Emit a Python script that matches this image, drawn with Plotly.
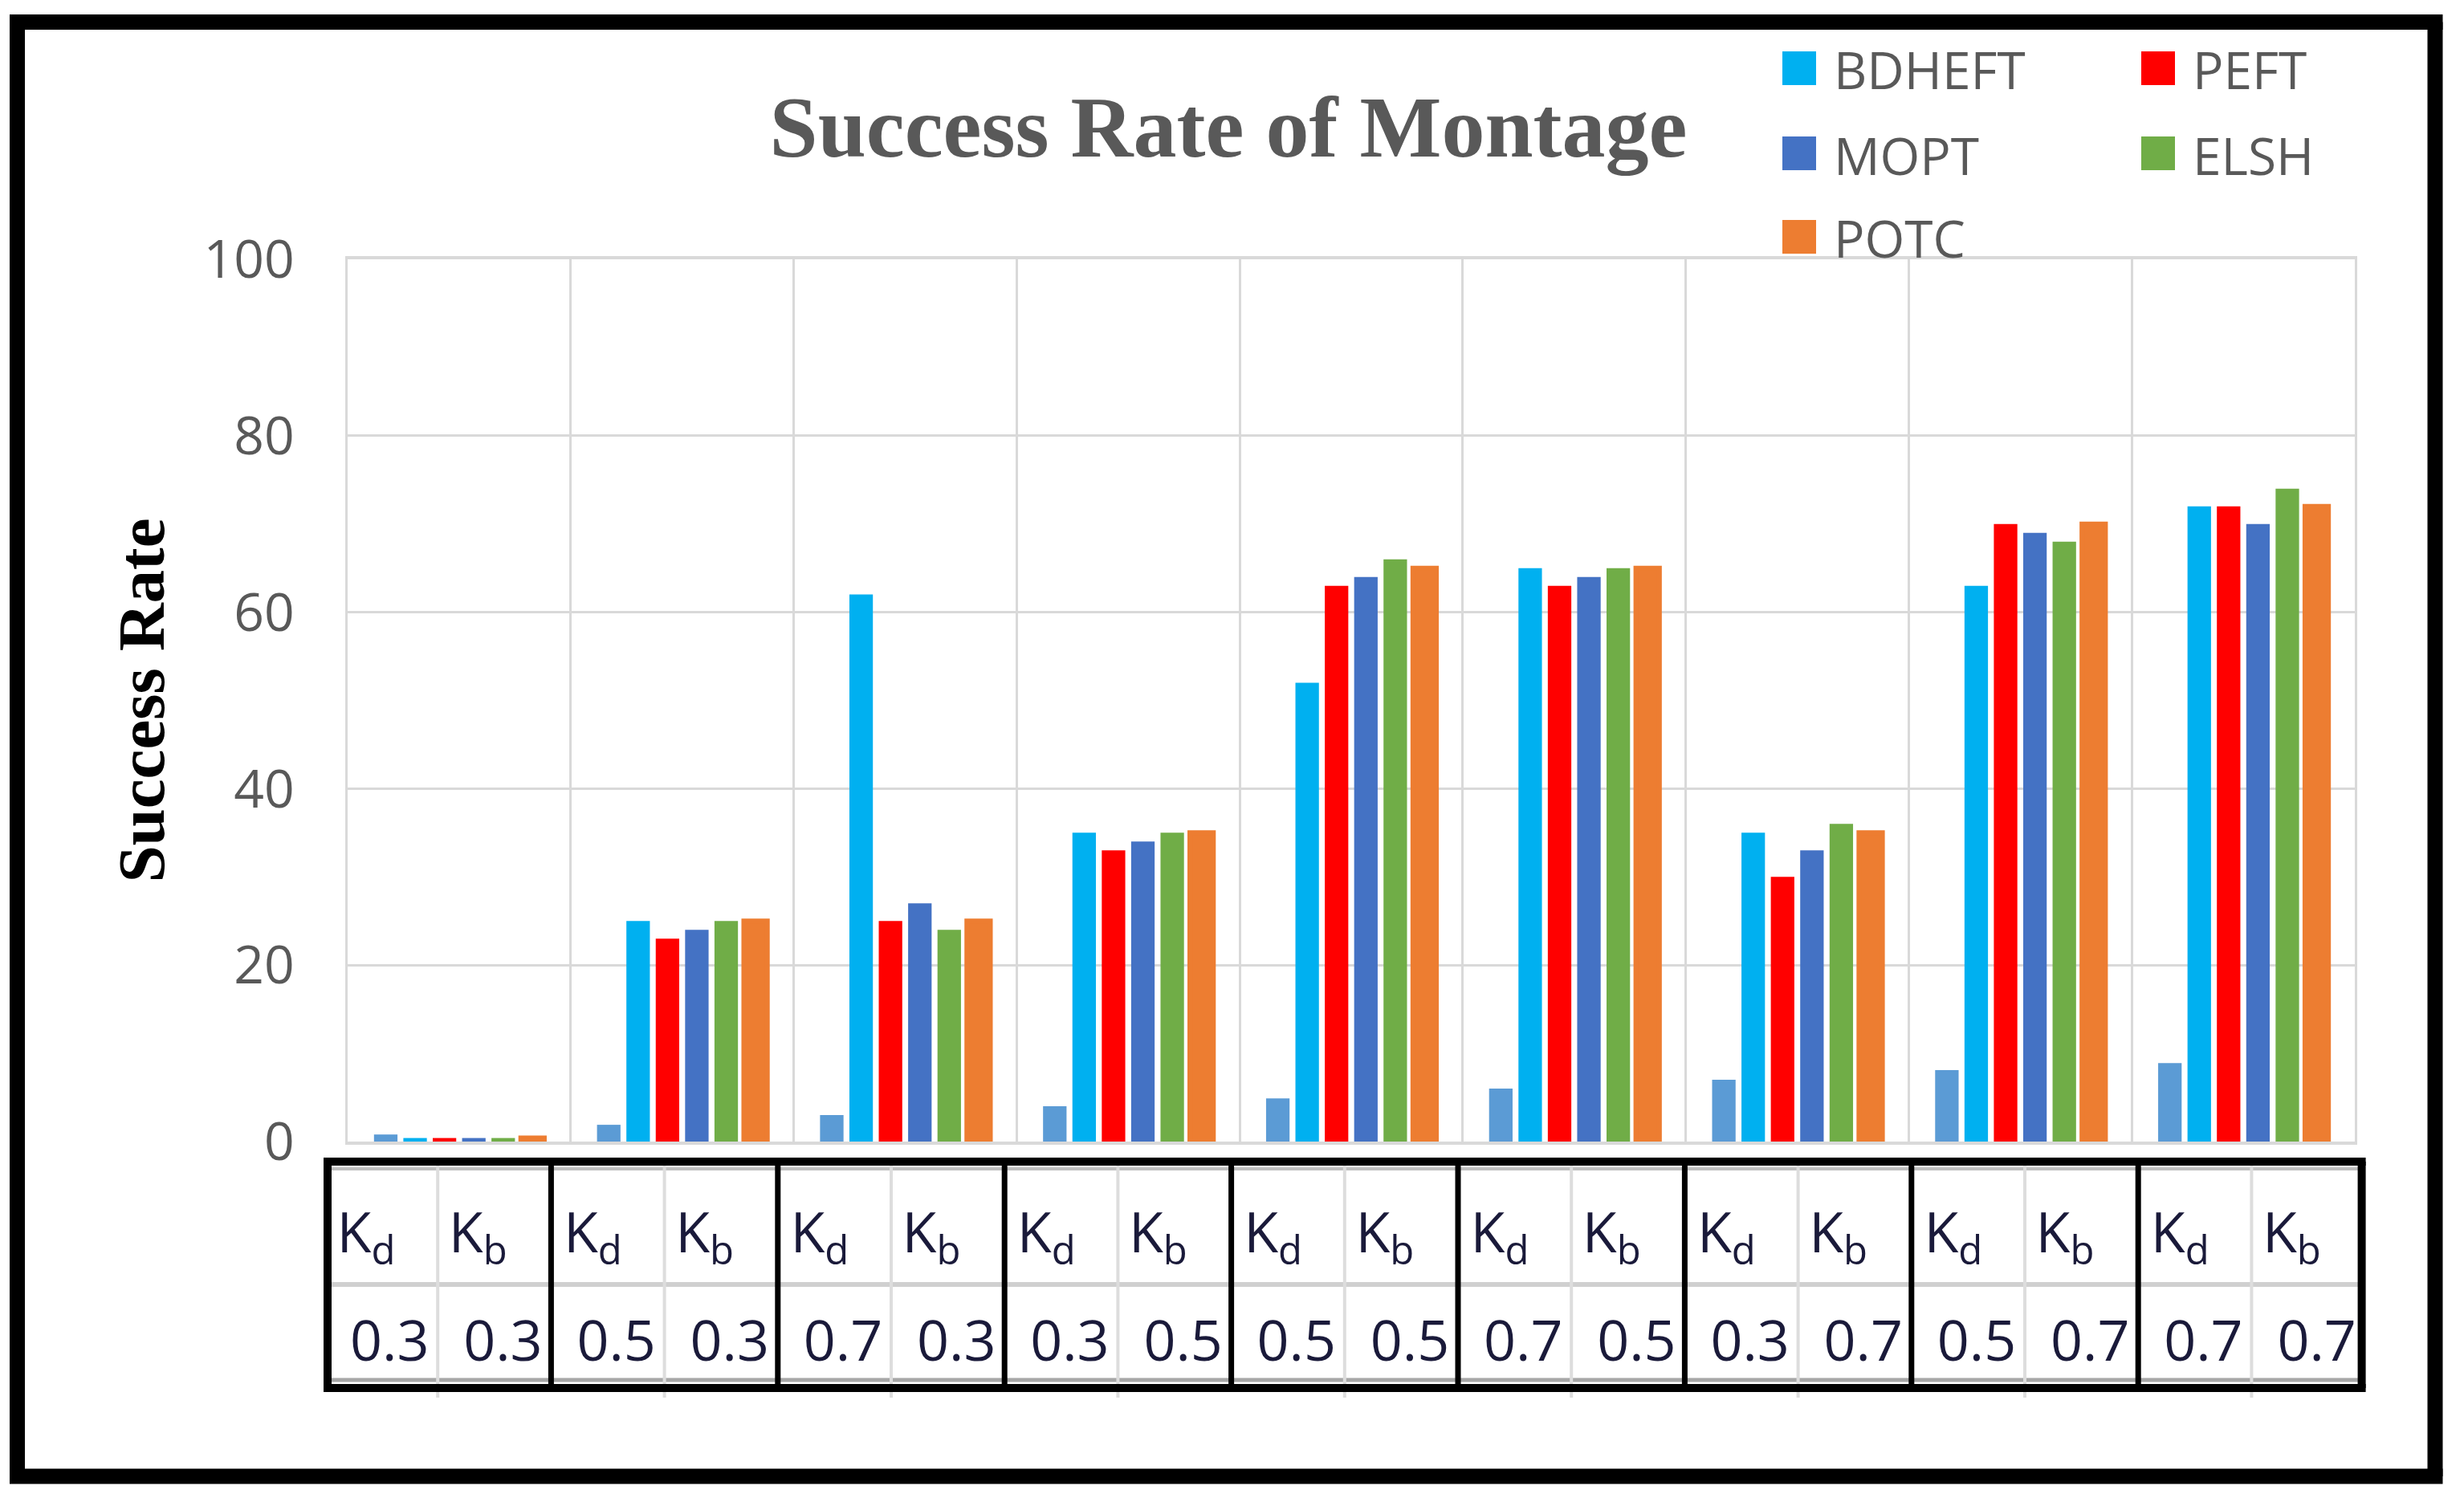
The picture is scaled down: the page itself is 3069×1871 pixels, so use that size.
import plotly.graph_objects as go

# ---------------- data ----------------
kd_values = [0.3, 0.5, 0.7, 0.3, 0.5, 0.7, 0.3, 0.5, 0.7]
kb_values = [0.3, 0.3, 0.3, 0.5, 0.5, 0.5, 0.7, 0.7, 0.7]
categories = [f"Kd={a}, Kb={b}" for a, b in zip(kd_values, kb_values)]

setting_no = [0.8, 1.9, 3.0, 4.0, 4.9, 6.0, 7.0, 8.1, 8.9]
bdheft = [0.4, 25, 62, 35, 52, 65, 35, 63, 72]
peft = [0.4, 23, 25, 33, 63, 63, 30, 70, 72]
mopt = [0.4, 24, 27, 34, 64, 64, 33, 69, 70]
elsh = [0.4, 25, 24, 35, 66, 65, 36, 68, 74]
potc = [0.4, 25, 25, 35, 65, 65, 35, 70, 72]

series_names = ["BDHEFT", "PEFT", "MOPT", "ELSH", "POTC"]
y_ticks = [0, 20, 40, 60, 80, 100]
header_labels = ["K<sub>d</sub>", "K<sub>b</sub>"]

title_text = "Success Rate of Montage"
y_title = "Success Rate"

# ---------------- styles ----------------
colors = {
    "Setting": "#5B9BD5",
    "BDHEFT": "#00B0F0",
    "PEFT": "#FF0000",
    "MOPT": "#4472C4",
    "ELSH": "#70AD47",
    "POTC": "#ED7D31",
}
W, H = 3069, 1871
L, R, T, B = 433, 2933, 323, 1422   # plot area in pixels
PB = 1745                            # bottom of paper (table lives between B and PB)
GRID = "#D9D9D9"
SANS = "Open Sans, Noto Sans, Roboto, sans-serif"
SERIF = "Liberation Serif, Times New Roman, DejaVu Serif, serif"


def px(xp):
    return (xp - L) / (R - L)


def py(yp):
    return (PB - yp) / (PB - T)


def hline(x0, x1, y, color, width, layer="above"):
    return dict(type="line", xref="paper", yref="paper", x0=px(x0), x1=px(x1),
                y0=py(y), y1=py(y), line=dict(color=color, width=width), layer=layer)


def vline(x, y0, y1, color, width, layer="above"):
    return dict(type="line", xref="paper", yref="paper", x0=px(x), x1=px(x),
                y0=py(y0), y1=py(y1), line=dict(color=color, width=width), layer=layer)


fig = go.Figure()
fig.add_trace(go.Bar(x=categories, y=setting_no, name="Setting",
                     marker=dict(color=colors["Setting"], line=dict(width=0)),
                     showlegend=False))
series_values = {"BDHEFT": bdheft, "PEFT": peft, "MOPT": mopt, "ELSH": elsh, "POTC": potc}
for name in series_names:
    lw = 6 if name == "POTC" else 0
    fig.add_trace(go.Bar(x=categories, y=series_values[name], name=name,
                         marker=dict(color=colors[name], line=dict(width=lw, color=colors[name])),
                         showlegend=False))

shapes = []
annotations = []

# outer black frame (four edges)
FX0, FY0, FX1, FY1 = 21.5, 27.5, 3033, 1839
shapes += [hline(FX0 - 9.5, FX1 + 9.5, FY0, "black", 19), hline(FX0 - 9.5, FX1 + 9.5, FY1, "black", 19),
           vline(FX0, FY0, FY1, "black", 19), vline(FX1, FY0, FY1, "black", 19)]

# manual legend (2 columns)
legend_pos = {
    "BDHEFT": (2220, 85), "PEFT": (2667, 85),
    "MOPT": (2220, 191), "ELSH": (2667, 191),
    "POTC": (2220, 295),
}
for name in series_names:
    sx, sy = legend_pos[name]
    shapes.append(dict(type="rect", xref="paper", yref="paper",
                       x0=px(sx), x1=px(sx + 42), y0=py(sy - 21), y1=py(sy + 21),
                       fillcolor=colors[name], line=dict(width=0), layer="above"))
    annotations.append(dict(text=name, xref="paper", yref="paper",
                            x=px(sx + 62), y=py(sy + 2), xanchor="left", yanchor="middle",
                            showarrow=False, font=dict(family=SANS, size=64, color="#595959")))

# table (data table of the category axis) under the x axis
TX0, TGW = 404, 282.4
TY_TOP, TY_SEP, TY_BOT = 1447, 1600, 1729
n = len(categories)
tx_left = TX0 + 4
tx_right = TX0 + n * TGW - 4
shapes.append(hline(tx_left, tx_right, 1456, "#BFBFBF", 4, "below"))
shapes.append(hline(tx_left, tx_right, 1719, "#A6A6A6", 5, "below"))
shapes.append(hline(tx_left, tx_right, TY_SEP, "#D0D0D0", 6, "below"))
for i in range(n):
    shapes.append(vline(TX0 + (i + 0.5) * TGW, TY_TOP, TY_BOT + 12, "#DDDDDD", 4, "below"))
for i in range(1, n):
    shapes.append(vline(TX0 + i * TGW, TY_TOP, TY_BOT, "black", 7))
shapes += [hline(tx_left - 5, tx_right + 5, TY_TOP, "black", 10),
           hline(tx_left - 5, tx_right + 5, TY_BOT, "black", 10),
           vline(tx_left, TY_TOP, TY_BOT, "black", 10),
           vline(tx_right, TY_TOP, TY_BOT, "black", 10)]

# label positions (pixel x) for the two table rows, drawn as tick labels of helper axes
HDR_HALF = 36   # half width of a header label (left aligned text in the cell)
VAL_HALF = 50   # half width of a value label (right aligned text in the cell)
hdr_pos, hdr_text, val_pos, val_text = [], [], [], []
for i, (kd, kb) in enumerate(zip(kd_values, kb_values)):
    g0 = TX0 + i * TGW
    mid = g0 + 0.5 * TGW
    g1 = g0 + TGW
    hdr_pos += [g0 + 16 + HDR_HALF, mid + 14 + HDR_HALF]
    hdr_text += header_labels
    val_pos += [mid - 10 - VAL_HALF, g1 - 10 - VAL_HALF]
    val_text += [f"{kd}", f"{kb}"]

tab_font = dict(family=SANS, size=70, color="#1A1A3A")
# helper traces (no visible marks) so that helper axes get drawn
fig.add_trace(go.Scatter(x=hdr_pos, y=[None] * len(hdr_pos), xaxis="x2", yaxis="y",
                         mode="markers", showlegend=False, hoverinfo="skip"))
fig.add_trace(go.Scatter(x=val_pos, y=[None] * len(val_pos), xaxis="x3", yaxis="y",
                         mode="markers", showlegend=False, hoverinfo="skip"))

fig.update_layout(
    width=W, height=H, autosize=False,
    margin=dict(l=L, r=W - R, t=T, b=H - PB, pad=0),
    paper_bgcolor="white", plot_bgcolor="white",
    barmode="group", bargap=0.21, bargroupgap=0.2,
    title=dict(text=title_text, xref="container", yref="container",
               x=1530 / W, y=1 - 157 / H, xanchor="center", yanchor="middle",
               font=dict(family=SERIF, size=108, color="#595959", weight="bold")),
    xaxis=dict(type="category", tickson="boundaries", showgrid=True, gridcolor=GRID, gridwidth=3,
               showticklabels=False, ticks="", showline=True, linecolor=GRID, linewidth=4,
               mirror=True, zeroline=False),
    xaxis2=dict(overlaying="x", anchor="free", position=py(1489), side="bottom",
                range=[L, R], tickmode="array", tickvals=hdr_pos, ticktext=hdr_text,
                showgrid=False, zeroline=False, showline=False, ticks="",
                tickfont=tab_font, tickangle=0),
    xaxis3=dict(overlaying="x", anchor="free", position=py(1624), side="bottom",
                range=[L, R], tickmode="array", tickvals=val_pos, ticktext=val_text,
                showgrid=False, zeroline=False, showline=False, ticks="",
                tickfont=tab_font, tickangle=0),
    yaxis=dict(range=[0, 100], tickvals=y_ticks, showgrid=True, gridcolor=GRID, gridwidth=3,
               domain=[py(B), 1],
               ticks="", ticklabelstandoff=50, showline=True, linecolor=GRID, linewidth=3,
               mirror=True, zeroline=False,
               tickfont=dict(family=SANS, size=66, color="#595959"),
               title=dict(text=y_title, standoff=22,
                          font=dict(family=SERIF, size=83, color="black", weight="bold"))),
    shapes=shapes, annotations=annotations, showlegend=False,
)

fig.write_html("out.html", config={"displayModeBar": False},
               post_script="document.body.style.margin='0';document.body.style.overflow='hidden';")
